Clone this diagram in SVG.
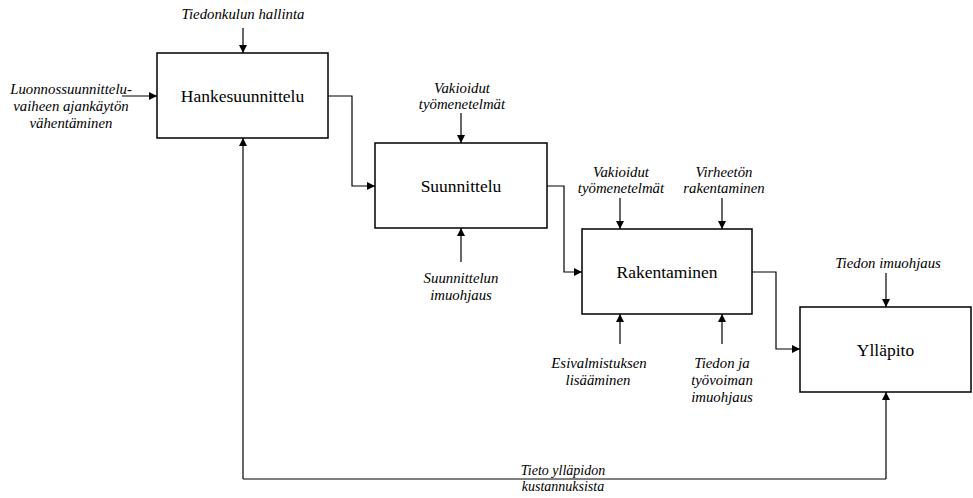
<svg xmlns="http://www.w3.org/2000/svg" width="973" height="498" viewBox="0 0 973 498">
  <style>
    .box { fill: #fff; stroke: #000; stroke-width: 1.5; }
    .title { font-family: 'Liberation Serif', serif; font-size: 17.5px; text-anchor: middle; fill: #000; }
    .lbl { font-family: 'Liberation Serif', serif; font-style: italic; font-size: 14.8px; text-anchor: middle; fill: #000; }
    .lbl-s { font-size: 14px; }
    .wire { fill: none; stroke: #000; stroke-width: 1.2; marker-end: url(#arrow); }
    .plain { fill: none; stroke: #000; stroke-width: 1.2; }
  </style>
  <defs>
    <marker id="arrow" viewBox="0 0 10 10" refX="10" refY="5" markerWidth="9" markerHeight="8" orient="auto" markerUnits="userSpaceOnUse">
      <path d="M0,0 L10,5 L0,10 z" fill="#000"/>
    </marker>
  </defs>

  <rect width="973" height="498" fill="#fff"/>

  <!-- connectors -->
  <g id="connectors">
    <!-- main flow -->
    <path class="wire" d="M328,96 H352 V186 H375"/>
    <path class="wire" d="M547,186 H564 V272 H582"/>
    <path class="wire" d="M752,272 H776 V349 H800"/>
    <!-- inputs / controls -->
    <path class="wire" d="M122,96 H157"/>
    <path class="wire" d="M243,28 V53"/>
    <path class="wire" d="M461,113 V143"/>
    <path class="wire" d="M461,262 V228"/>
    <path class="wire" d="M620,198 V229"/>
    <path class="wire" d="M722,198 V229"/>
    <path class="wire" d="M620,344 V314"/>
    <path class="wire" d="M722,344 V314"/>
    <path class="wire" d="M886,273 V307"/>
    <!-- feedback loop -->
    <path class="plain" d="M243,479 H886"/>
    <path class="wire" d="M243,479 V138"/>
    <path class="wire" d="M886,479 V392"/>
  </g>

  <!-- connector labels -->
  <g id="labels">
    <text class="lbl" x="243" y="19">Tiedonkulun hallinta</text>
    <text class="lbl" x="71" y="94">Luonnossuunnittelu-</text>
    <text class="lbl" x="71" y="111">vaiheen ajankäytön</text>
    <text class="lbl" x="71" y="128">vähentäminen</text>
    <text class="lbl" x="462" y="93">Vakioidut</text>
    <text class="lbl" x="462" y="109">työmenetelmät</text>
    <text class="lbl" x="461" y="283">Suunnittelun</text>
    <text class="lbl" x="461" y="300">imuohjaus</text>
    <text class="lbl" x="621" y="177">Vakioidut</text>
    <text class="lbl" x="621" y="193">työmenetelmät</text>
    <text class="lbl" x="724" y="177">Virheetön</text>
    <text class="lbl" x="724" y="193">rakentaminen</text>
    <text class="lbl" x="599" y="368">Esivalmistuksen</text>
    <text class="lbl" x="598" y="385">lisääminen</text>
    <text class="lbl" x="722" y="368">Tiedon ja</text>
    <text class="lbl" x="722" y="385">työvoiman</text>
    <text class="lbl" x="722" y="402">imuohjaus</text>
    <text class="lbl" x="888" y="268">Tiedon imuohjaus</text>
    <text class="lbl lbl-s" x="563" y="475">Tieto ylläpidon</text>
    <text class="lbl lbl-s" x="563" y="491">kustannuksista</text>
  </g>

  <!-- process boxes -->
  <g id="hankesuunnittelu">
    <rect class="box" x="157" y="53" width="171" height="85"/>
    <text class="title" x="242.5" y="101.5">Hankesuunnittelu</text>
  </g>
  <g id="suunnittelu">
    <rect class="box" x="375" y="143" width="172" height="85"/>
    <text class="title" x="461" y="191.5">Suunnittelu</text>
  </g>
  <g id="rakentaminen">
    <rect class="box" x="582" y="229" width="170" height="85"/>
    <text class="title" x="667" y="277.5">Rakentaminen</text>
  </g>
  <g id="yllapito">
    <rect class="box" x="800" y="307" width="171" height="85"/>
    <text class="title" x="885.5" y="355.5">Ylläpito</text>
  </g>
</svg>
